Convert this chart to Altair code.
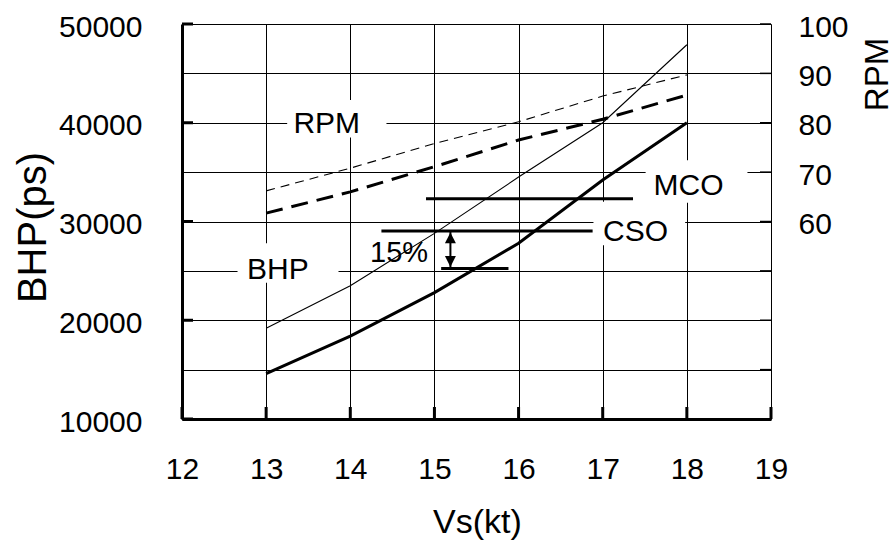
import altair as alt
import pandas as pd

# ---- data ----
speeds = [13, 14, 15, 16, 17, 18]
bhp_service = [14600, 18400, 22800, 27800, 34200, 40000]   # thick solid
bhp_trial = [19200, 23500, 28800, 34500, 40000, 47900]     # thin solid
rpm_trial = [66.2, 70.8, 75.8, 80.2, 85.4, 89.7]           # thin dashed
rpm_service = [61.7, 66.0, 71.1, 76.5, 80.7, 85.6]         # thick dashed

level_names = ["MCO", "CSO", "SM"]
level_bhp = [32300, 29050, 25250]
level_from = [14.90, 14.37, 15.08]
level_to = [17.36, 16.88, 15.88]

arrow_x = [15.19]
arrow_top = [29050]
arrow_bottom = [25250]

x_ticks = [12, 13, 14, 15, 16, 17, 18, 19]
bhp_ticks = [10000, 20000, 30000, 40000, 50000]
rpm_ticks = [20, 30, 40, 50, 60, 70, 80, 90, 100]

label_texts = ["RPM", "BHP", "MCO", "CSO"]
label_x = [13.72, 13.14, 18.02, 17.39]
label_y = [39900, 25100, 33600, 28900]
box_x1 = [13.25, 12.66, 17.51, 16.89]
box_x2 = [14.43, 13.86, 18.72, 17.98]
box_y1 = [42300, 27800, 36200, 32000]
box_y2 = [38500, 23800, 31900, 27600]

pct_text = ["15%"]
pct_x = [14.58]
pct_y = [26800]

FONT = "Liberation Sans"
W, H = 589, 395

xs = alt.Scale(domain=[12, 19], nice=False, zero=False)
ys = alt.Scale(domain=[10000, 50000], nice=False, zero=False)
rs = alt.Scale(domain=[20, 100], nice=False, zero=False)

x_axis = alt.Axis(
    values=x_ticks, grid=True, gridColor="black", gridWidth=1, gridOpacity=1,
    ticks=False, tickSize=0, domainColor="black", domainWidth=3,
    labelFont=FONT, labelFontSize=30, labelFontWeight="normal", labelColor="black",
    labelBaseline="alphabetic", labelPadding=59, labelFlush=False, format="d",
    title="Vs(kt)", titleFont=FONT, titleFontSize=34, titleFontWeight="normal",
    titleColor="black", titleX=295, titleY=113, titleAlign="center",
    titleBaseline="alphabetic", zindex=0,
)
y_axis = alt.Axis(
    values=bhp_ticks, grid=False, ticks=False, tickSize=0, format="d",
    domainColor="black", domainWidth=3,
    labelFont=FONT, labelFontSize=30, labelFontWeight="normal", labelColor="black",
    labelPadding=40, labelBaseline="middle", labelOffset=3, labelFlush=False,
    title="BHP(ps)", titleFont=FONT, titleFontSize=40, titleFontWeight="normal",
    titleColor="black", titleAngle=270, titleX=-137, titleY=203,
    titleAlign="center", titleBaseline="alphabetic", zindex=0,
)
r_axis = alt.Axis(
    orient="right", values=rpm_ticks, grid=True, gridColor="black", gridWidth=1,
    gridOpacity=1, ticks=False, tickSize=0, domain=False, format="d",
    labelExpr="datum.value >= 60 ? datum.label : ''",
    labelFont=FONT, labelFontSize=30, labelFontWeight="normal", labelColor="black",
    labelPadding=27, labelAlign="left", labelBaseline="middle", labelOffset=3,
    labelFlush=False,
    title="RPM", titleFont=FONT, titleFontSize=33, titleFontWeight="normal",
    titleColor="black", titleAngle=270, titleX=116, titleY=50,
    titleAlign="center", titleBaseline="alphabetic", zindex=0,
)

X = alt.X("Vs:Q", scale=xs, axis=x_axis)
Y = alt.Y("BHP:Q", scale=ys, axis=y_axis)
R = alt.Y("RPM:Q", scale=rs, axis=r_axis)

service_df = pd.DataFrame({"Vs": speeds, "BHP": bhp_service})
trial_df = pd.DataFrame({"Vs": speeds, "BHP": bhp_trial})
levels_df = pd.DataFrame({"name": level_names, "Vs": level_from,
                          "Vs2": level_to, "BHP": level_bhp})
boxes_df = pd.DataFrame({"label": label_texts, "Vs": box_x1, "Vs2": box_x2,
                         "BHP": box_y1, "BHP2": box_y2})
labels_df = pd.DataFrame({"label": label_texts, "Vs": label_x, "BHP": label_y})
pct_df = pd.DataFrame({"label": pct_text, "Vs": pct_x, "BHP": pct_y})
arrow_df = pd.DataFrame({"Vs": arrow_x, "BHP": arrow_top, "BHP2": arrow_bottom})
arrow_top_df = pd.DataFrame({"Vs": arrow_x, "BHP": arrow_top})
arrow_bot_df = pd.DataFrame({"Vs": arrow_x, "BHP": arrow_bottom})
xt_df = pd.DataFrame({"Vs": x_ticks})
yt_df = pd.DataFrame({"BHP": bhp_ticks})
rt_df = pd.DataFrame({"RPM": rpm_ticks})
rpm_trial_df = pd.DataFrame({"Vs": speeds, "RPM": rpm_trial})
rpm_service_df = pd.DataFrame({"Vs": speeds, "RPM": rpm_service})

boxes = alt.Chart(boxes_df).mark_rect(color="white").encode(
    x=X, x2="Vs2:Q", y=Y, y2="BHP2:Q")
line_service = alt.Chart(service_df).mark_line(color="black", strokeWidth=3).encode(x=X, y=Y)
line_trial = alt.Chart(trial_df).mark_line(color="black", strokeWidth=1.1).encode(x=X, y=Y)
levels = alt.Chart(levels_df).mark_rule(color="black", strokeWidth=3).encode(
    x=X, x2="Vs2:Q", y=Y)
arrow = alt.Chart(arrow_df).mark_rule(color="black", strokeWidth=2).encode(
    x=X, y=Y, y2="BHP2:Q")
head_up = alt.Chart(arrow_top_df).mark_point(
    shape="M0,-1L1,1L-1,1Z", size=120, filled=True, color="black", opacity=1,
    yOffset=7).encode(x=X, y=Y)
head_down = alt.Chart(arrow_bot_df).mark_point(
    shape="M0,1L1,-1L-1,-1Z", size=120, filled=True, color="black", opacity=1,
    yOffset=-7).encode(x=X, y=Y)
labels = alt.Chart(labels_df).mark_text(
    font=FONT, fontSize=30, color="black", align="center", baseline="middle").encode(
    x=X, y=Y, text="label:N")
pct = alt.Chart(pct_df).mark_text(
    font="Liberation Sans Narrow, " + FONT, fontSize=29, color="black",
    align="center", baseline="middle").encode(x=X, y=Y, text="label:N")
x_ticks_marks = alt.Chart(xt_df).mark_rule(color="black", strokeWidth=3).encode(
    x=X, y=alt.value(H), y2=alt.value(H - 12))
y_ticks_marks = alt.Chart(yt_df).mark_rule(color="black", strokeWidth=3).encode(
    y=Y, x=alt.value(0), x2=alt.value(11))

left = alt.layer(boxes, line_service, line_trial, levels, arrow, head_up, head_down,
                 labels, pct, x_ticks_marks, y_ticks_marks)

rpm_thin = alt.Chart(rpm_trial_df).mark_line(
    color="black", strokeWidth=1.1, strokeDash=[9, 6]).encode(x=X, y=R)
rpm_thick = alt.Chart(rpm_service_df).mark_line(
    color="black", strokeWidth=3, strokeDash=[17, 9]).encode(x=X, y=R)
r_ticks_marks = alt.Chart(rt_df).mark_rule(color="black", strokeWidth=1.5).encode(
    y=R, x=alt.value(W - 11), x2=alt.value(W))

right = alt.layer(rpm_thin, rpm_thick, r_ticks_marks)

chart = alt.layer(left, right).resolve_scale(y="independent").properties(
    width=W, height=H,
    autosize=alt.AutoSizeParams(type="none"),
    padding={"left": 182, "top": 24, "right": 124, "bottom": 121},
    background="white",
).configure_view(stroke="black", strokeWidth=1.5).configure(font=FONT)

chart.save("out.html", embed_options={"renderer": "svg", "actions": False})
